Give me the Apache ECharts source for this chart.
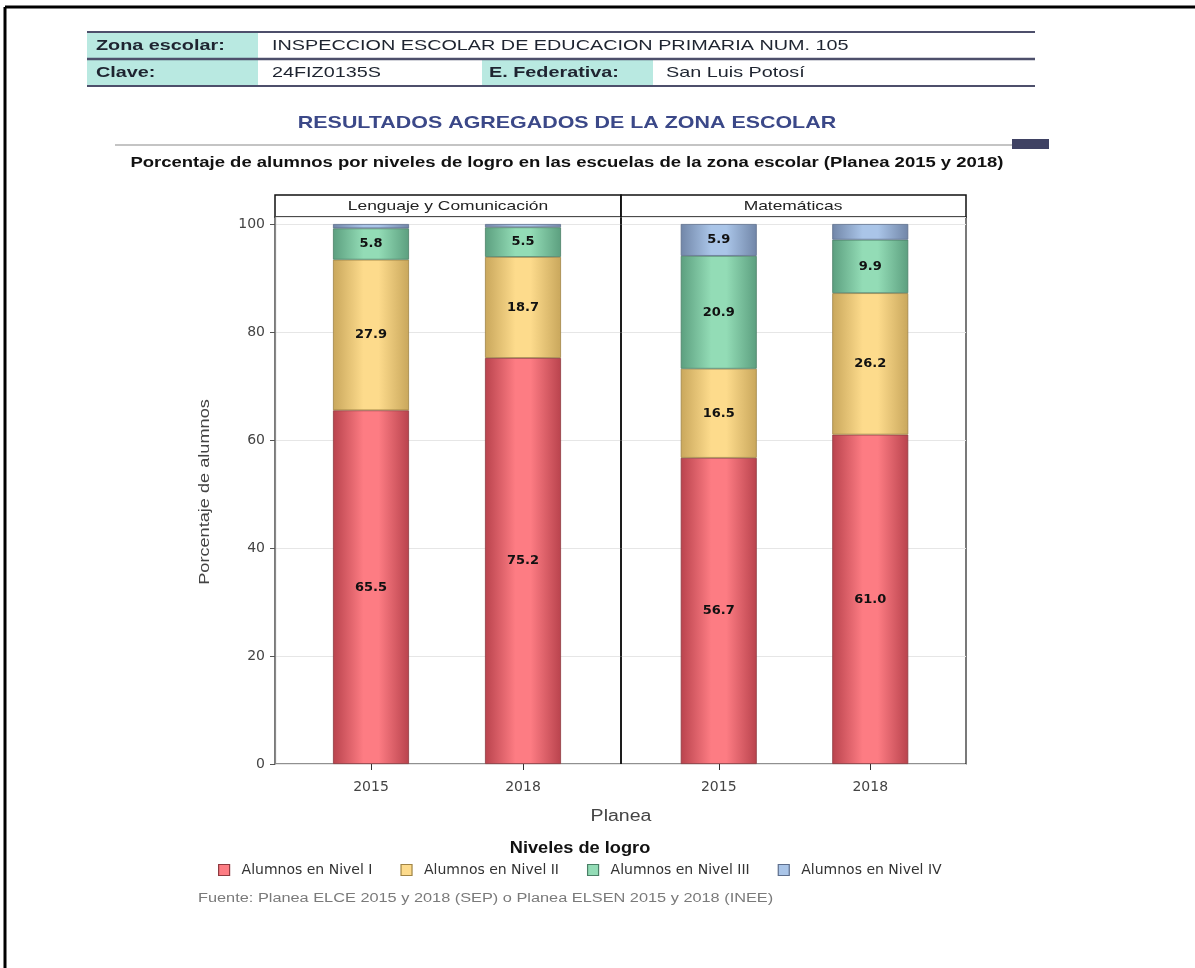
<!DOCTYPE html>
<html>
<head>
<meta charset="utf-8">
<script src="https://cdn.jsdelivr.net/npm/echarts@6/dist/echarts.min.js"></script>
<style>
html,body{margin:0;padding:0;background:#fff;}
#chart{width:1195px;height:968px;}
</style>
</head>
<body>
<div id="chart"></div>
<script>
// ---- Data ----
const years = ['2015', '2018'];
const subjects = ['Lenguaje y Comunicación', 'Matemáticas'];
const levels = ['Alumnos en Nivel I', 'Alumnos en Nivel II', 'Alumnos en Nivel III', 'Alumnos en Nivel IV'];
// values per subject: [2015, 2018]
const lenguajeNivelI = [65.5, 75.2];
const lenguajeNivelII = [27.9, 18.7];
const lenguajeNivelIII = [5.8, 5.5];
const lenguajeNivelIV = [0.8, 0.6];
const matematicasNivelI = [56.7, 61.0];
const matematicasNivelII = [16.5, 26.2];
const matematicasNivelIII = [20.9, 9.9];
const matematicasNivelIV = [5.9, 2.9];
const yTicks = [0, 20, 40, 60, 80, 100];

const FONT = '"Liberation Sans", Arial, sans-serif';
const WFONT = '"DejaVu Sans", "Liberation Sans", sans-serif';

const palette = [
  {dark: '#b9434d', light: '#fd7c83', border: '#8e3a40'},
  {dark: '#c9a75c', light: '#fddb8c', border: '#a08445'},
  {dark: '#5c9f7f', light: '#93dcb6', border: '#4a7f66'},
  {dark: '#7186a8', light: '#aac5e8', border: '#5d6e8c'}
];
function grad(p) {
  return new echarts.graphic.LinearGradient(0, 0, 1, 0, [
    {offset: 0, color: p.dark},
    {offset: 0.4, color: p.light},
    {offset: 0.6, color: p.light},
    {offset: 1, color: p.dark}
  ]);
}

const subjectData = [
  [lenguajeNivelI, lenguajeNivelII, lenguajeNivelIII, lenguajeNivelIV],
  [matematicasNivelI, matematicasNivelII, matematicasNivelIII, matematicasNivelIV]
];

const PLOT_TOP = 217, PLOT_BOTTOM = 764;
const YMAX = 101.3;
const frames = [{left: 275, width: 346}, {left: 621, width: 345}];
const inner = [{left: 295, width: 304}, {left: 643, width: 303}];

const grids = [], xAxes = [], yAxes = [], series = [];
frames.forEach((f, i) => {
  grids.push({left: f.left, top: PLOT_TOP, width: f.width, height: PLOT_BOTTOM - PLOT_TOP,
    show: true, borderColor: '#222', borderWidth: 1.2, backgroundColor: 'transparent', z: 0});
  xAxes.push({gridIndex: i, type: 'value', min: 0, max: 1, show: false});
  yAxes.push({gridIndex: i, type: 'value', min: yTicks[0], max: YMAX, interval: 20,
    axisLine: {show: i === 0, lineStyle: {color: '#888', width: 1.2}},
    axisTick: {show: i === 0, length: 5, lineStyle: {color: '#555'}},
    axisLabel: {show: i === 0, color: '#444', fontSize: 14, fontFamily: WFONT, margin: 10,
      showMaxLabel: false, formatter: v => yTicks.indexOf(v) >= 0 ? String(v) : ''},
    splitLine: {show: true, lineStyle: {color: '#e6e6e6', width: 1}}
  });
});
inner.forEach((g, i) => {
  const gi = i + 2;
  grids.push({left: g.left, top: PLOT_TOP, width: g.width, height: PLOT_BOTTOM - PLOT_TOP});
  xAxes.push({gridIndex: gi, type: 'category', data: years,
    axisLine: {show: false},
    axisTick: {show: true, alignWithLabel: true, length: 6, lineStyle: {color: '#333'}},
    axisLabel: {color: '#444', fontSize: 14, fontFamily: WFONT, margin: 16}
  });
  yAxes.push({gridIndex: gi, type: 'value', min: 0, max: YMAX, show: false, splitLine: {show: false}});
  subjectData[i].forEach((vals, li) => {
    series.push({
      type: 'bar', name: levels[li], xAxisIndex: gi, yAxisIndex: gi, stack: 'panel' + i,
      data: vals, barWidth: 76,
      itemStyle: {color: grad(palette[li]), borderColor: palette[li].border, borderWidth: 0.8},
      label: {show: true, position: 'inside', color: '#111', fontWeight: 'bold', fontSize: 13, fontFamily: WFONT,
        formatter: p => p.value >= 5 ? p.value.toFixed(1) : ''},
      emphasis: {disabled: true}
    });
  });
});

const hdrLine = '#4d4f6b';
const teal = '#b9e9e1';
const SX = 1.32;
function txt(x, y, text, font, fill, align, sx, extra) {
  return Object.assign({type: 'text', x: x, y: y, scaleX: sx,
    style: {text: text, font: font, fill: fill, align: align, verticalAlign: 'middle'}}, extra || {});
}
const graphic = [
  // page border
  {type: 'line', shape: {x1: 5, y1: 7, x2: 1195, y2: 7}, style: {stroke: '#000', lineWidth: 3}},
  {type: 'line', shape: {x1: 5, y1: 7, x2: 5, y2: 968}, style: {stroke: '#000', lineWidth: 3}},
  // header table
  {type: 'rect', shape: {x: 87, y: 33, width: 171, height: 25}, style: {fill: teal}},
  {type: 'rect', shape: {x: 87, y: 60, width: 171, height: 25}, style: {fill: teal}},
  {type: 'rect', shape: {x: 482, y: 60, width: 171, height: 25}, style: {fill: teal}},
  {type: 'line', shape: {x1: 87, y1: 32, x2: 1035, y2: 32}, style: {stroke: hdrLine, lineWidth: 2}},
  {type: 'line', shape: {x1: 87, y1: 59, x2: 1035, y2: 59}, style: {stroke: hdrLine, lineWidth: 2.5}},
  {type: 'line', shape: {x1: 87, y1: 86, x2: 1035, y2: 86}, style: {stroke: hdrLine, lineWidth: 2}},
  txt(96, 46, 'Zona escolar:', 'bold 15px ' + FONT, '#1e2430', 'left', SX),
  txt(272, 46, 'INSPECCION ESCOLAR DE EDUCACION PRIMARIA NUM. 105', '15px ' + FONT, '#1e2430', 'left', SX),
  txt(96, 73, 'Clave:', 'bold 15px ' + FONT, '#1e2430', 'left', SX),
  txt(272, 73, '24FIZ0135S', '15px ' + FONT, '#1e2430', 'left', SX),
  txt(489, 73, 'E. Federativa:', 'bold 15px ' + FONT, '#1e2430', 'left', SX),
  txt(666, 73, 'San Luis Potosí', '15px ' + FONT, '#1e2430', 'left', SX),
  // section title
  txt(567, 123, 'RESULTADOS AGREGADOS DE LA ZONA ESCOLAR', 'bold 17px ' + FONT, '#3b4888', 'center', 1.26),
  {type: 'line', shape: {x1: 115, y1: 145, x2: 1012, y2: 145}, style: {stroke: '#c4c4c4', lineWidth: 2}},
  {type: 'rect', shape: {x: 1012, y: 139, width: 37, height: 10}, style: {fill: '#3f4263'}},
  txt(567, 163, 'Porcentaje de alumnos por niveles de logro en las escuelas de la zona escolar (Planea 2015 y 2018)', 'bold 14px ' + FONT, '#111', 'center', 1.32),
  // panel headers
  {type: 'rect', shape: {x: 275, y: 195, width: 346, height: 22}, style: {fill: '#fff', stroke: '#111', lineWidth: 1.5}},
  {type: 'rect', shape: {x: 621, y: 195, width: 345, height: 22}, style: {fill: '#fff', stroke: '#111', lineWidth: 1.5}},
  txt(448, 206, subjects[0], '13px ' + FONT, '#222', 'center', 1.34),
  txt(793, 206, subjects[1], '13px ' + FONT, '#222', 'center', 1.34),
  {type: 'line', shape: {x1: 621, y1: 195, x2: 621, y2: 764}, style: {stroke: '#111', lineWidth: 1.5}, z: 10},
  // axis titles + legend title + source
  txt(205, 492, 'Porcentaje de alumnos', '15px ' + FONT, '#444', 'center', 1.21, {rotation: Math.PI / 2}),
  txt(621, 817, 'Planea', '16px ' + FONT, '#444', 'center', 1.22),
  txt(580, 848, 'Niveles de logro', 'bold 17px ' + FONT, '#111', 'center', 1.07),
  txt(198, 899, 'Fuente: Planea ELCE 2015 y 2018 (SEP) o Planea ELSEN 2015 y 2018 (INEE)', '12px ' + FONT, '#7a7a7a', 'left', 1.36)
];

const chart = echarts.init(document.getElementById('chart'), null, {renderer: 'canvas'});
chart.setOption({
  animation: false,
  backgroundColor: '#fff',
  grid: grids,
  xAxis: xAxes,
  yAxis: yAxes,
  series: series,
  legend: {
    left: 213, top: 858, itemWidth: 11, itemHeight: 11, itemGap: 28, icon: 'rect',
    textStyle: {color: '#333', fontSize: 14, fontFamily: WFONT, padding: [0, 0, 0, 7]},
    data: levels.map((n, i) => ({name: n, itemStyle: {color: palette[i].light, borderColor: palette[i].border, borderWidth: 1.2}})),
    selectedMode: false
  },
  graphic: graphic
});
</script>
</body>
</html>
